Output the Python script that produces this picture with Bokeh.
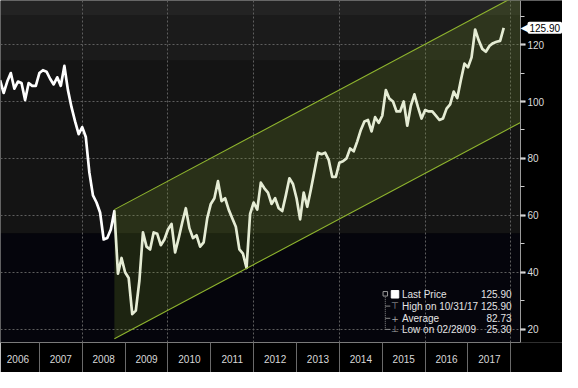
from bokeh.plotting import figure
from bokeh.models import (Range1d, FixedTicker, SingleIntervalTicker, CustomJSTickFormatter,
                          BoxAnnotation, Label)
from bokeh.core.properties import value
from bokeh.embed import file_html
from bokeh.resources import INLINE

# ---------------- data (monthly closes, Jan 2006 - Oct 2017) ----------------
years = list(range(2006, 2018))
p2006 = [107.5, 103.0, 107.0, 110.0, 104.5, 107.0, 106.5, 100.5, 106.5, 105.5, 105.5, 110.0]
p2007 = [111.0, 110.5, 108.0, 106.0, 108.5, 105.5, 112.5, 104.0, 98.0, 93.0, 88.5, 91.0]
p2008 = [87.5, 75.0, 67.0, 64.5, 61.0, 51.5, 52.0, 55.0, 61.5, 39.5, 45.0, 40.0]
p2009 = [38.0, 25.3, 26.5, 37.0, 54.0, 49.0, 48.0, 54.0, 53.5, 49.5, 51.5, 55.0]
p2010 = [57.0, 47.0, 52.0, 57.5, 62.5, 55.5, 52.0, 53.0, 49.0, 50.5, 59.0, 64.0]
p2011 = [66.0, 72.0, 65.0, 66.0, 62.0, 59.0, 56.0, 48.0, 46.5, 41.5, 60.5, 64.5]
p2012 = [62.0, 71.5, 69.5, 68.0, 64.0, 66.0, 62.5, 61.5, 67.0, 73.0, 71.0, 66.0]
p2013 = [58.6, 68.0, 63.0, 69.0, 75.5, 82.0, 81.5, 82.0, 79.5, 73.5, 73.5, 78.5]
p2014 = [79.0, 80.0, 83.5, 82.5, 86.0, 90.0, 93.0, 93.5, 89.5, 94.5, 92.5, 95.0]
p2015 = [104.0, 101.0, 100.0, 96.5, 96.5, 100.0, 91.5, 98.5, 102.5, 98.0, 94.0, 97.0]
p2016 = [96.5, 96.5, 95.0, 93.5, 94.0, 97.5, 99.0, 103.5, 101.2, 107.5, 113.3, 112.0]
p2017 = [115.5, 125.3, 121.5, 118.5, 117.5, 119.5, 120.5, 121.0, 121.3, 125.9]
monthly = [p2006, p2007, p2008, p2009, p2010, p2011, p2012, p2013, p2014, p2015, p2016, p2017]

# summary block
last_price = 125.90
high_value, high_date = 125.90, "10/31/17"
average_value = 82.73
low_value, low_date = 25.30, "02/28/09"

# trend channel (start / end points)
channel_x = [2008.75, 2018.225]
channel_upper = [62.0, 138.0]
channel_lower = [16.6, 92.6]

# background shading band edges (price levels)
band_edges = [53.7, 114.3, 130.4]

x_vals, y_vals = [], []
for yr, vals in zip(years, monthly):
    for m, v in enumerate(vals, start=1):
        x_vals.append(yr + m / 12.0)
        y_vals.append(v)

# ---------------- figure ----------------
W, H = 562, 372
BOTTOM = 30
FH = H - BOTTOM
PLOT_W = 520                     # width of the chart area left of the price axis
FONT = "Liberation Sans"

x_start, x_axis = 2006.093, 2018.225
x_end = x_start + (x_axis - x_start) * W / PLOT_W   # room for the price scale

p = figure(width=W, height=H, output_backend="svg", toolbar_location=None,
           x_range=Range1d(x_start, x_end), y_range=Range1d(15.3, 135.5),
           y_axis_location="right",
           min_border_left=0, min_border_top=0, min_border_right=0,
           min_border_bottom=BOTTOM,
           background_fill_color="#000000", border_fill_color="#000000",
           outline_line_color=None)
p.extra_x_ranges = {"px": Range1d(0, W)}
p.extra_y_ranges = {"px": Range1d(0, FH)}

# background bands (chart area only)
band_colors = ["#05050c", "#141414", "#1b1b1b", "#232323"]
bottoms = [None] + band_edges
tops = band_edges + [None]
for b, t, c in zip(bottoms, tops, band_colors):
    p.add_layout(BoxAnnotation(bottom=b, top=t, right=x_axis, fill_color=c, fill_alpha=1.0,
                               line_color=None, level="image"))

# grids
p.xgrid.ticker = FixedTicker(ticks=[2008, 2010, 2012, 2014, 2016, 2018])
for g in (p.xgrid, p.ygrid):
    g.grid_line_color = "#5e5e5e"
    g.grid_line_dash = "2 2"
    g.grid_line_width = 1
# keep the price-scale strip clean
p.add_layout(BoxAnnotation(left=x_axis, fill_color="#000000", fill_alpha=1.0,
                           line_color=None, level="glyph"))

# price line
p.line(x_vals, y_vals, line_color="white", line_width=2.7, line_join="round")

# channel
p.patch(x=[channel_x[0], channel_x[1], channel_x[1], channel_x[0]],
        y=[channel_upper[0], channel_upper[1], channel_lower[1], channel_lower[0]],
        fill_color="#7d9e2a", fill_alpha=0.2, line_color=None)
p.line(channel_x, channel_upper, line_color="#8fb52e", line_width=1.1)
p.line(channel_x, channel_lower, line_color="#8fb52e", line_width=1.1)

# ---------------- axes ----------------
xa = p.xaxis[0]
xa.ticker = FixedTicker(ticks=[y + 0.5 for y in years],
                        minor_ticks=list(range(years[0], years[-1] + 2)))
xa.formatter = CustomJSTickFormatter(code="return String(Math.floor(tick));")
xa.bounds = (x_start, x_axis)
xa.major_tick_out = 0
xa.major_tick_in = 0
xa.minor_tick_in = 0
xa.minor_tick_out = 30
xa.minor_tick_line_color = "#6a6a6a"
xa.axis_line_color = "#7a7a7a"
xa.major_label_text_color = "#d9d9d9"
xa.major_label_text_font = FONT
xa.major_label_text_font_size = "10px"
xa.major_label_standoff = -18

ya = p.yaxis[0]
ya.fixed_location = x_axis
ya.ticker = SingleIntervalTicker(interval=20, num_minor_ticks=2)
ya.axis_line_color = "#9a9a9a"
ya.major_tick_in = 0
ya.major_tick_out = 5
ya.major_tick_line_color = "white"
ya.major_tick_line_width = 2
ya.minor_tick_in = 0
ya.minor_tick_out = 4
ya.minor_tick_line_color = "#cccccc"
ya.major_label_text_color = "#dcdcdc"
ya.major_label_text_font = FONT
ya.major_label_text_font_size = "10px"
ya.major_label_standoff = 2

# last-price tag on the price scale
p.add_layout(Label(x=x_axis, y=last_price, x_offset=0, text="\u25C0",
                   text_color="white", text_font="DejaVu Sans", text_font_size="10px",
                   text_baseline="middle", text_align="left"))
p.add_layout(Label(x=x_axis, y=last_price, x_offset=7, text=f"{last_price:.2f}",
                   text_color="black", text_font=FONT, text_font_size="10px",
                   text_baseline="middle", text_align="left",
                   background_fill_color="white", padding=2, border_radius=2))

# ---------------- legend block ----------------
leg_labels = ["Last Price", f"High on {high_date}", "Average", f"Low on {low_date}"]
leg_values = [f"{last_price:.2f}", f"{high_value:.2f}", f"{average_value:.2f}", f"{low_value:.2f}"]
rows_y = [48.2, 36.4, 24.2, 13.1]
text_x, val_x, icon_x, br_x = 401.5, 511.0, 394.5, 384.8

p.text(x=[text_x] * 4, y=rows_y, text=leg_labels, x_range_name="px", y_range_name="px",
       text_font=value(FONT), text_font_size="10px", text_color="#e4e4e4",
       text_baseline="middle", text_align="left")
p.text(x=[val_x] * 4, y=rows_y, text=leg_values, x_range_name="px", y_range_name="px",
       text_font=value(FONT), text_font_size="10px", text_color="#e4e4e4",
       text_baseline="middle", text_align="right")
p.rect(x=[icon_x], y=[rows_y[0]], width=7.5, height=7.5, x_range_name="px", y_range_name="px",
       fill_color="white", line_color="white")
p.text(x=[icon_x] * 3, y=rows_y[1:], text=["\u22A4", "+", "\u22A5"], x_range_name="px",
       y_range_name="px", text_font=value("DejaVu Sans"), text_font_size="9px",
       text_color="#a8a8a8", text_baseline="middle", text_align="center")
p.rect(x=[br_x], y=[rows_y[0] + 0.5], width=4.5, height=4.5, x_range_name="px", y_range_name="px",
       fill_color=None, line_color="#9a9a9a", line_width=1)
p.segment(x0=[br_x], y0=[rows_y[0] - 2.5], x1=[br_x], y1=[rows_y[3]], x_range_name="px",
          y_range_name="px", line_color="#8a8a8a", line_width=1, line_dash="1 1")
p.segment(x0=[br_x] * 3, y0=rows_y[1:], x1=[br_x + 5] * 3, y1=rows_y[1:], x_range_name="px",
          y_range_name="px", line_color="#8a8a8a", line_width=1)

open("out.html", "w").write(file_html(p, INLINE))
